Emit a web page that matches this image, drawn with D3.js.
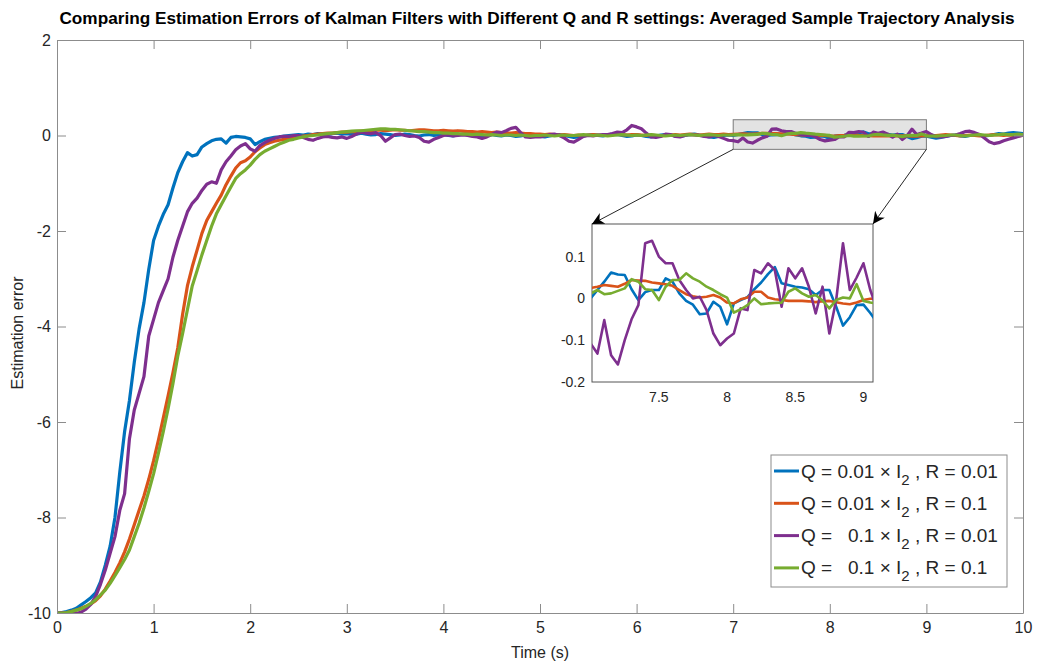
<!DOCTYPE html>
<html>
<head>
<meta charset="utf-8">
<script src="https://cdnjs.cloudflare.com/ajax/libs/d3/7.8.5/d3.min.js"></script>
<style>
	body { margin: 0; background: #ffffff; }
	text { font-family: "Liberation Sans", Arial, sans-serif; fill: #262626; }
</style>
</head>
<body>
<script>
//sample times, 0 to 10 s every 0.05 s
var timeStep = 0.05;
var time = d3.range(0, 201).map(function(i){ return +(i * timeStep).toFixed(2); });

//averaged estimation error, one row per second
var errQ001R001 = [
	-10, -9.99, -9.97, -9.94, -9.9, -9.83, -9.76, -9.68, -9.58, -9.35, -9.0, -8.6, -8.0, -7.05, -6.2, -5.55, -4.75, -4.05, -3.5, -2.8,
	-2.2, -1.9, -1.65, -1.45, -1.1, -0.78, -0.55, -0.36, -0.43, -0.4, -0.24, -0.17, -0.11, -0.08, -0.07, -0.16, -0.04, -0.02, -0.03, -0.04,
	-0.07, -0.19, -0.13, -0.08, -0.06, -0.04, -0.03, -0.01, 0.0, 0.01, 0.02, 0.01, 0.03, 0.02, 0.04, 0.03, 0.02, 0.04, 0.05, 0.03,
	0.04, 0.02, 0.03, 0.05, 0.03, 0.01, 0.02, 0.04, 0.03, 0.02, 0.0, 0.01, 0.03, 0.02, 0.0, -0.01, 0.01, 0.02, 0.0, 0.01,
	0.02, 0.0, -0.01, 0.01, 0.03, 0.02, 0.0, -0.02, -0.01, 0.01, 0.02, 0.0, -0.01, 0.01, 0.0, -0.02, -0.01, 0.01, 0.02, 0.0,
	-0.02, -0.03, -0.01, 0.01, 0.02, 0.0, -0.02, -0.04, -0.03, -0.01, 0.01, 0.02, 0.0, -0.01, 0.01, 0.03, 0.02, 0.0, -0.02, -0.01,
	0.01, 0.0, -0.02, -0.03, -0.01, 0.01, 0.02, 0.01, -0.01, -0.02, 0.0, 0.02, 0.03, 0.01, -0.01, -0.03, -0.04, -0.02, 0.0, 0.01,
	0.0, 0.02, 0.04, 0.062, 0.057, 0.056, 0.022, -0.004, 0.015, 0.02, 0.02, 0.048, 0.04, 0.012, -0.006, -0.015, -0.038, -0.036, -0.008, -0.02,
	-0.062, -0.012, -0.004, 0.003, 0.022, 0.038, 0.058, 0.075, 0.036, 0.032, 0.028, 0.026, 0.022, 0.008, 0.02, 0.02, -0.02, -0.065, -0.045, -0.016,
	-0.015, -0.035, -0.058, -0.04, -0.02, 0.0, 0.01, -0.01, -0.02, 0.0, 0.02, 0.01, -0.01, 0.0, 0.02, 0.04, 0.03, 0.05, 0.06, 0.05,
	0.04
];

var errQ001R01 = [
	-10, -10, -9.99, -9.97, -9.94, -9.9, -9.86, -9.81, -9.74, -9.64, -9.5, -9.33, -9.15, -8.95, -8.72, -8.45, -8.15, -7.85, -7.55, -7.2,
	-6.81, -6.38, -5.92, -5.45, -4.97, -4.45, -3.75, -3.15, -2.75, -2.4, -2.05, -1.78, -1.6, -1.42, -1.25, -1.03, -0.85, -0.68, -0.57, -0.53,
	-0.45, -0.34, -0.26, -0.19, -0.15, -0.12, -0.1, -0.08, -0.06, -0.04, -0.03, -0.01, 0.0, 0.02, 0.03, 0.04, 0.05, 0.05, 0.06, 0.07,
	0.07, 0.08, 0.08, 0.09, 0.1, 0.1, 0.11, 0.11, 0.1, 0.11, 0.12, 0.11, 0.11, 0.1, 0.11, 0.12, 0.12, 0.11, 0.1, 0.1,
	0.11, 0.1, 0.09, 0.1, 0.09, 0.08, 0.08, 0.07, 0.08, 0.07, 0.06, 0.07, 0.06, 0.05, 0.05, 0.06, 0.05, 0.04, 0.04, 0.03,
	0.03, 0.02, 0.03, 0.02, 0.01, 0.02, 0.01, 0.0, 0.01, 0.0, 0.01, 0.02, 0.01, 0.0, 0.01, 0.02, 0.03, 0.02, 0.01, 0.02,
	0.02, 0.01, 0.0, 0.01, 0.0, -0.01, 0.0, 0.01, 0.02, 0.01, 0.02, 0.03, 0.02, 0.01, 0.02, 0.03, 0.02, 0.02, 0.03, 0.02,
	0.025, 0.028, 0.032, 0.03, 0.028, 0.035, 0.044, 0.043, 0.042, 0.038, 0.036, 0.034, 0.03, 0.02, 0.01, 0.005, 0.002, 0.004, 0.008, 0.002,
	-0.01, -0.012, -0.002, 0.002, 0.016, 0.016, 0.002, -0.002, -0.004, -0.006, -0.006, -0.006, -0.007, -0.009, -0.007, -0.006, -0.009, -0.012, -0.014, -0.01,
	-0.004, -0.001, 0.0, 0.01, 0.02, 0.01, 0.0, -0.01, 0.0, 0.01, 0.0, -0.01, 0.0, 0.01, 0.02, 0.01, 0.0, 0.01, 0.0, -0.01,
	0.0
];

var errQ01R001 = [
	-10, -10, -10, -10, -10.01, -9.98, -9.92, -9.82, -9.65, -9.4, -9.1, -8.75, -8.4, -7.85, -7.5, -6.35, -5.75, -5.4, -5.05, -4.2,
	-3.85, -3.5, -3.25, -3.0, -2.55, -2.2, -1.9, -1.6, -1.42, -1.31, -1.15, -1.02, -0.97, -1.0, -0.72, -0.55, -0.43, -0.3, -0.22, -0.17,
	-0.28, -0.33, -0.21, -0.15, -0.1, -0.06, -0.03, -0.02, -0.02, 0.0, 0.0, -0.04, -0.08, -0.1, -0.06, -0.03, -0.02, -0.04, -0.05, -0.03,
	-0.06, -0.02, 0.03, 0.07, 0.05, 0.04, 0.06, 0.0, -0.12, -0.05, 0.02, 0.03, 0.0, -0.02, -0.01, -0.04, -0.12, -0.14, -0.08, -0.04,
	0.0, 0.01, -0.01, 0.0, 0.01, 0.0, -0.02, -0.03, -0.06, -0.03, 0.02, 0.07, 0.06, 0.1, 0.15, 0.17, 0.06, -0.03, -0.04, -0.03,
	-0.03, -0.01, 0.02, 0.03, 0.0, -0.05, -0.12, -0.14, -0.08, -0.02, 0.0, -0.01, 0.01, 0.02, 0.02, 0.04, 0.07, 0.06, 0.12, 0.21,
	0.18, 0.14, 0.05, -0.03, -0.04, -0.02, 0.03, 0.02, -0.02, -0.03, 0.0, 0.02, 0.01, 0.0, -0.02, -0.03, 0.0, -0.02, -0.06, -0.1,
	-0.108, -0.132, -0.052, -0.136, -0.158, -0.1, -0.05, -0.016, 0.132, 0.138, 0.1, 0.084, 0.084, 0.044, 0.02, 0.0, 0.004, -0.028, -0.084, -0.112,
	-0.096, -0.084, -0.024, -0.028, 0.068, 0.06, 0.084, 0.068, -0.02, 0.072, 0.048, 0.072, 0.028, -0.036, 0.028, -0.084, -0.004, 0.132, 0.02, 0.05,
	0.084, 0.02, -0.025, -0.03, -0.02, 0.0, 0.01, 0.04, 0.08, 0.09, 0.06, 0.02, -0.05, -0.13, -0.17, -0.15, -0.11, -0.08, -0.05, -0.02,
	0.01
];

var errQ01R01 = [
	-10, -10, -9.99, -9.97, -9.94, -9.91, -9.86, -9.8, -9.72, -9.62, -9.52, -9.38, -9.22, -9.05, -8.88, -8.68, -8.4, -8.12, -7.8, -7.45,
	-7.08, -6.65, -6.2, -5.72, -5.2, -4.62, -4.15, -3.65, -3.15, -2.83, -2.5, -2.2, -1.9, -1.64, -1.45, -1.26, -1.08, -0.9, -0.8, -0.72,
	-0.62, -0.5, -0.4, -0.33, -0.28, -0.23, -0.18, -0.14, -0.1, -0.08, -0.05, -0.03, -0.01, 0.0, 0.01, 0.03, 0.04, 0.05, 0.06, 0.07,
	0.08, 0.09, 0.1, 0.1, 0.11, 0.12, 0.13, 0.14, 0.14, 0.13, 0.13, 0.12, 0.11, 0.1, 0.09, 0.08, 0.08, 0.07, 0.06, 0.06,
	0.05, 0.05, 0.04, 0.04, 0.03, 0.03, 0.02, 0.03, 0.02, 0.01, 0.02, 0.01, 0.0, 0.01, 0.01, 0.0, 0.01, 0.0, -0.01, 0.0,
	0.0, 0.01, 0.0, -0.01, 0.0, 0.01, 0.0, 0.0, 0.01, 0.02, 0.01, 0.0, 0.01, 0.0, -0.01, 0.0, 0.01, 0.02, 0.01, 0.0,
	0.01, 0.0, 0.01, 0.02, 0.01, 0.0, -0.01, 0.0, 0.01, 0.0, 0.01, 0.02, 0.01, 0.0, 0.01, 0.02, 0.01, 0.0, 0.01, 0.01,
	0.012, 0.02, 0.01, 0.012, 0.018, 0.024, 0.046, 0.04, 0.022, 0.02, -0.004, 0.028, 0.044, 0.044, 0.06, 0.048, 0.04, 0.028, 0.02, 0.01,
	0.002, -0.034, -0.026, -0.016, 0.0, -0.014, -0.012, -0.011, -0.01, 0.016, 0.024, 0.012, 0.004, 0.008, -0.005, -0.024, -0.004, 0.002, 0.0, 0.034,
	-0.006, -0.01, -0.012, -0.005, 0.0, 0.01, 0.01, 0.0, -0.01, 0.0, 0.01, 0.02, 0.01, 0.0, 0.01, 0.02, 0.03, 0.02, 0.02, 0.03,
	0.02
];

//legend labels (Q part, subscript, R part) and colours
var seriesNames = [
	["Q = 0.01 \u00D7 I", "2", " , R = 0.01"],
	["Q = 0.01 \u00D7 I", "2", " , R = 0.1"],
	["Q =   0.1 \u00D7 I", "2", " , R = 0.01"],
	["Q =   0.1 \u00D7 I", "2", " , R = 0.1"]
];
var seriesValues = [errQ001R001, errQ001R01, errQ01R001, errQ01R01];
var seriesColors = ["#0072BD", "#D95319", "#7E2F8E", "#77AC30"];

//axis ticks
var xTicks = [0, 1, 2, 3, 4, 5, 6, 7, 8, 9, 10];
var yTicks = [-10, -8, -6, -4, -2, 0, 2];
var insetXTicks = [7.5, 8, 8.5, 9];
var insetYTicks = [-0.2, -0.1, 0, 0.1];

//zoomed window (time, error) and the inset's own limits
var zoomTime = [7, 9];
var zoomErr = [-0.29, 0.33];
var insetTime = [7.01, 9.07];
var insetErr = [-0.2, 0.178];

window.onload = function(){

	var w = 1037, h = 665;

	//plain hyphen for negatives, like MATLAB
	var fmt = function(d){ return String(d); };

	var svg = d3.select("body")
		.append("svg")
		.attr("width", w)
		.attr("height", h);

	svg.append("rect")
		.attr("width", w)
		.attr("height", h)
		.style("fill", "#ffffff");

	//main scales
	var x = d3.scaleLinear().domain([0, 10]).range([57, 1023]);
	var y = d3.scaleLinear().domain([-10, 2]).range([613, 40]);

	//clip for the main plot area
	var defs = svg.append("defs");
	defs.append("clipPath").attr("id", "mainClip")
		.append("rect")
		.attr("x", x(0)).attr("y", y(2))
		.attr("width", x(10) - x(0)).attr("height", y(-10) - y(2));

	//zoom window shading, drawn under the lines
	svg.append("rect")
		.attr("x", x(zoomTime[0]))
		.attr("y", y(zoomErr[1]))
		.attr("width", x(zoomTime[1]) - x(zoomTime[0]))
		.attr("height", y(zoomErr[0]) - y(zoomErr[1]))
		.style("fill", "#e3e3e3")
		.style("stroke", "#7a7a7a")
		.style("stroke-width", 1);

	//line generator
	var line = d3.line()
		.x(function(d){ return x(d[0]); })
		.y(function(d){ return y(d[1]); });

	svg.append("g")
		.attr("clip-path", "url(#mainClip)")
		.selectAll(".mainLine")
		.data(seriesValues)
		.enter()
		.append("path")
		.attr("class", "mainLine")
		.attr("d", function(d){
			return line(d.map(function(v, i){ return [time[i], v]; }));
		})
		.style("fill", "none")
		.style("stroke", function(d, i){ return seriesColors[i]; })
		.style("stroke-width", 3.2)
		.style("stroke-linejoin", "round");

	//axes, MATLAB style with ticks inside and a box
	var axisColor = "#8c8c8c";
	var xAxis = svg.append("g")
		.attr("transform", "translate(0," + y(-10) + ")")
		.call(d3.axisBottom(x).tickValues(xTicks).tickFormat(fmt).tickSizeInner(-9).tickSizeOuter(0).tickPadding(9));
	var xAxisTop = svg.append("g")
		.attr("transform", "translate(0," + y(2) + ")")
		.call(d3.axisTop(x).tickValues(xTicks).tickSizeInner(-9).tickSizeOuter(0).tickFormat(""));
	var yAxis = svg.append("g")
		.attr("transform", "translate(" + x(0) + ",0)")
		.call(d3.axisLeft(y).tickValues(yTicks).tickFormat(fmt).tickSizeInner(-9).tickSizeOuter(0).tickPadding(6));
	var yAxisRight = svg.append("g")
		.attr("transform", "translate(" + x(10) + ",0)")
		.call(d3.axisRight(y).tickValues(yTicks).tickSizeInner(-9).tickSizeOuter(0).tickFormat(""));

	[xAxis, xAxisTop, yAxis, yAxisRight].forEach(function(a){
		a.selectAll("path, line").style("stroke", axisColor);
		a.selectAll("text")
			.style("font-size", "16px")
			.style("font-family", "Liberation Sans, Arial, sans-serif")
			.style("fill", "#262626");
	});

	//title and axis labels
	svg.append("text")
		.attr("x", 537)
		.attr("y", 24)
		.attr("text-anchor", "middle")
		.style("font-size", "17.2px")
		.style("font-weight", "bold")
		.style("fill", "#000000")
		.text("Comparing Estimation Errors of Kalman Filters with Different Q and R settings: Averaged Sample Trajectory Analysis");

	svg.append("text")
		.attr("x", 540)
		.attr("y", 658)
		.attr("text-anchor", "middle")
		.style("font-size", "16px")
		.text("Time (s)");

	svg.append("text")
		.attr("transform", "translate(23,333) rotate(-90)")
		.attr("text-anchor", "middle")
		.style("font-size", "16px")
		.text("Estimation error");

	//inset
	var ix = d3.scaleLinear().domain(insetTime).range([592, 873]);
	var iy = d3.scaleLinear().domain(insetErr).range([382, 224]);

	defs.append("clipPath").attr("id", "insetClip")
		.append("rect")
		.attr("x", ix(insetTime[0])).attr("y", iy(insetErr[1]))
		.attr("width", ix(insetTime[1]) - ix(insetTime[0]))
		.attr("height", iy(insetErr[0]) - iy(insetErr[1]));

	svg.append("rect")
		.attr("x", ix(insetTime[0]))
		.attr("y", iy(insetErr[1]))
		.attr("width", ix(insetTime[1]) - ix(insetTime[0]))
		.attr("height", iy(insetErr[0]) - iy(insetErr[1]))
		.style("fill", "#ffffff")
		.style("stroke", "#555555")
		.style("stroke-width", 1);

	var insetLine = d3.line()
		.x(function(d){ return ix(d[0]); })
		.y(function(d){ return iy(d[1]); });

	svg.append("g")
		.attr("clip-path", "url(#insetClip)")
		.selectAll(".insetLine")
		.data(seriesValues)
		.enter()
		.append("path")
		.attr("class", "insetLine")
		.attr("d", function(d){
			var pts = [];
			d.forEach(function(v, i){
				if (time[i] >= 6.9 && time[i] <= 9.2) pts.push([time[i], v]);
			});
			return insetLine(pts);
		})
		.style("fill", "none")
		.style("stroke", function(d, i){ return seriesColors[i]; })
		.style("stroke-width", 2.6)
		.style("stroke-linejoin", "round");

	//inset tick labels, no tick marks
	svg.selectAll(".insetX")
		.data(insetXTicks)
		.enter()
		.append("text")
		.attr("class", "insetX")
		.attr("x", function(d){ return ix(d); })
		.attr("y", iy(insetErr[0]) + 20)
		.attr("text-anchor", "middle")
		.style("font-size", "14px")
		.text(fmt);

	svg.selectAll(".insetY")
		.data(insetYTicks)
		.enter()
		.append("text")
		.attr("class", "insetY")
		.attr("x", ix(insetTime[0]) - 7)
		.attr("y", function(d){ return iy(d) + 5; })
		.attr("text-anchor", "end")
		.style("font-size", "14px")
		.text(fmt);

	//arrows from the zoom box to the inset corners
	defs.append("marker")
		.attr("id", "arrowHead")
		.attr("viewBox", "0 0 10 10")
		.attr("refX", 10)
		.attr("refY", 5)
		.attr("markerWidth", 12)
		.attr("markerHeight", 12)
		.attr("markerUnits", "userSpaceOnUse")
		.attr("orient", "auto")
		.append("path")
		.attr("d", "M0,0 L10,5 L0,10 L3,5 Z")
		.style("fill", "#000000");

	var arrows = [
		[[zoomTime[0], zoomErr[0]], [insetTime[0], insetErr[1]]],
		[[zoomTime[1], zoomErr[0]], [insetTime[1], insetErr[1]]]
	];
	svg.selectAll(".zoomArrow")
		.data(arrows)
		.enter()
		.append("line")
		.attr("class", "zoomArrow")
		.attr("x1", function(d){ return x(d[0][0]); })
		.attr("y1", function(d){ return y(d[0][1]); })
		.attr("x2", function(d){ return ix(d[1][0]); })
		.attr("y2", function(d){ return iy(d[1][1]); })
		.style("stroke", "#262626")
		.style("stroke-width", 1)
		.attr("marker-end", "url(#arrowHead)");

	//legend
	var legend = svg.append("g").attr("transform", "translate(771,455)");
	legend.append("rect")
		.attr("width", 236)
		.attr("height", 132)
		.style("fill", "#ffffff")
		.style("stroke", "#8c8c8c")
		.style("stroke-width", 1);

	var rows = legend.selectAll(".legendRow")
		.data(seriesNames)
		.enter()
		.append("g")
		.attr("class", "legendRow")
		.attr("transform", function(d, i){ return "translate(0," + (16 + i * 32.3) + ")"; });

	rows.append("line")
		.attr("x1", 3).attr("x2", 28)
		.style("stroke", function(d, i){ return seriesColors[i]; })
		.style("stroke-width", 3);

	var label = rows.append("text")
		.attr("x", 30)
		.attr("y", 6.5)
		.style("font-size", "19px")
		.style("white-space", "pre")
		.attr("xml:space", "preserve");
	label.append("tspan").text(function(d){ return d[0]; });
	label.append("tspan")
		.attr("dy", 7)
		.style("font-size", "15px")
		.text(function(d){ return d[1]; });
	label.append("tspan")
		.attr("dy", -7)
		.text(function(d){ return d[2]; });
};
</script>
</body>
</html>
